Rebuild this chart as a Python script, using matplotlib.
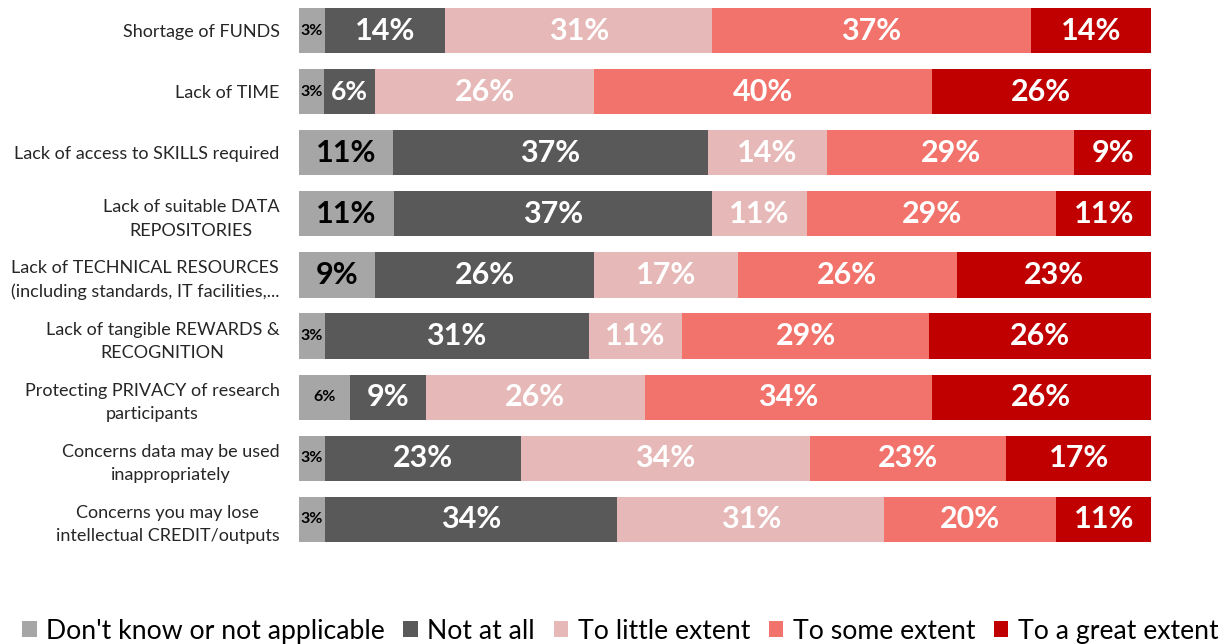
import numpy as np
import matplotlib.pyplot as plt

plt.rcParams['font.family'] = ['Lato', 'DejaVu Sans']

categories = ['Shortage of FUNDS',
              'Lack of TIME',
              'Lack of access to SKILLS required',
              'Lack of suitable DATA\nREPOSITORIES',
              'Lack of TECHNICAL RESOURCES\n(including standards, IT facilities,...',
              'Lack of tangible REWARDS &\nRECOGNITION',
              'Protecting PRIVACY of research\nparticipants',
              'Concerns data may be used\ninappropriately',
              'Concerns you may lose\nintellectual CREDIT/outputs']

series = ["Don't know or not applicable", 'Not at all', 'To little extent',
          'To some extent', 'To a great extent']

dont_know = [3, 3, 11, 11, 9, 3, 6, 3, 3]
not_at_all = [14, 6, 37, 37, 26, 31, 9, 23, 34]
little = [31, 26, 14, 11, 17, 11, 26, 34, 31]
some = [37, 40, 29, 29, 26, 29, 34, 23, 20]
great = [14, 26, 9, 11, 23, 26, 26, 17, 11]

colors = ['#A6A6A6', '#595959', '#E6B8B7', '#F2736B', '#C00000']
text_colors = ['black', 'white', 'white', 'white', 'white']

data = np.array([dont_know, not_at_all, little, some, great], dtype=float)
shares = data / data.sum(axis=0) * 100  # percent stacked

fig = plt.figure(figsize=(12.28, 6.44), dpi=100)
ax = fig.add_axes([0.2435, 0.146, 0.6938, 0.854])

y = np.arange(len(categories))
left = np.zeros(len(categories))
for k in range(len(series)):
    ax.barh(y, shares[k], left=left, height=0.74, color=colors[k], label=series[k])
    for i in range(len(categories)):
        v = data[k, i]
        cx = left[i] + shares[k, i] / 2
        if v <= 6 and k == 0:
            fs = 11.5
        elif v <= 6:
            fs = 19
        else:
            fs = 22
        ax.text(cx, y[i], '%d%%' % v, ha='center', va='center', fontsize=fs,
                fontweight='bold', color=text_colors[k])
    left += shares[k]

ax.set_xlim(0, 100)
ax.set_ylim(len(categories) - 0.5, -0.5)
ax.set_yticks(y)
ax.set_yticklabels(categories, fontsize=13, color='#262626',
                   multialignment='center', linespacing=1.55)
ax.tick_params(axis='y', length=0, pad=14)
ax.set_xticks([])
for s in ax.spines.values():
    s.set_visible(False)

fig.legend(loc='lower center', bbox_to_anchor=(0.505, -0.037), ncol=5, frameon=False,
           fontsize=19.2, handlelength=0.55, handleheight=0.55, handletextpad=0.35,
           columnspacing=0.7)

fig.savefig('out.png', dpi=100)
